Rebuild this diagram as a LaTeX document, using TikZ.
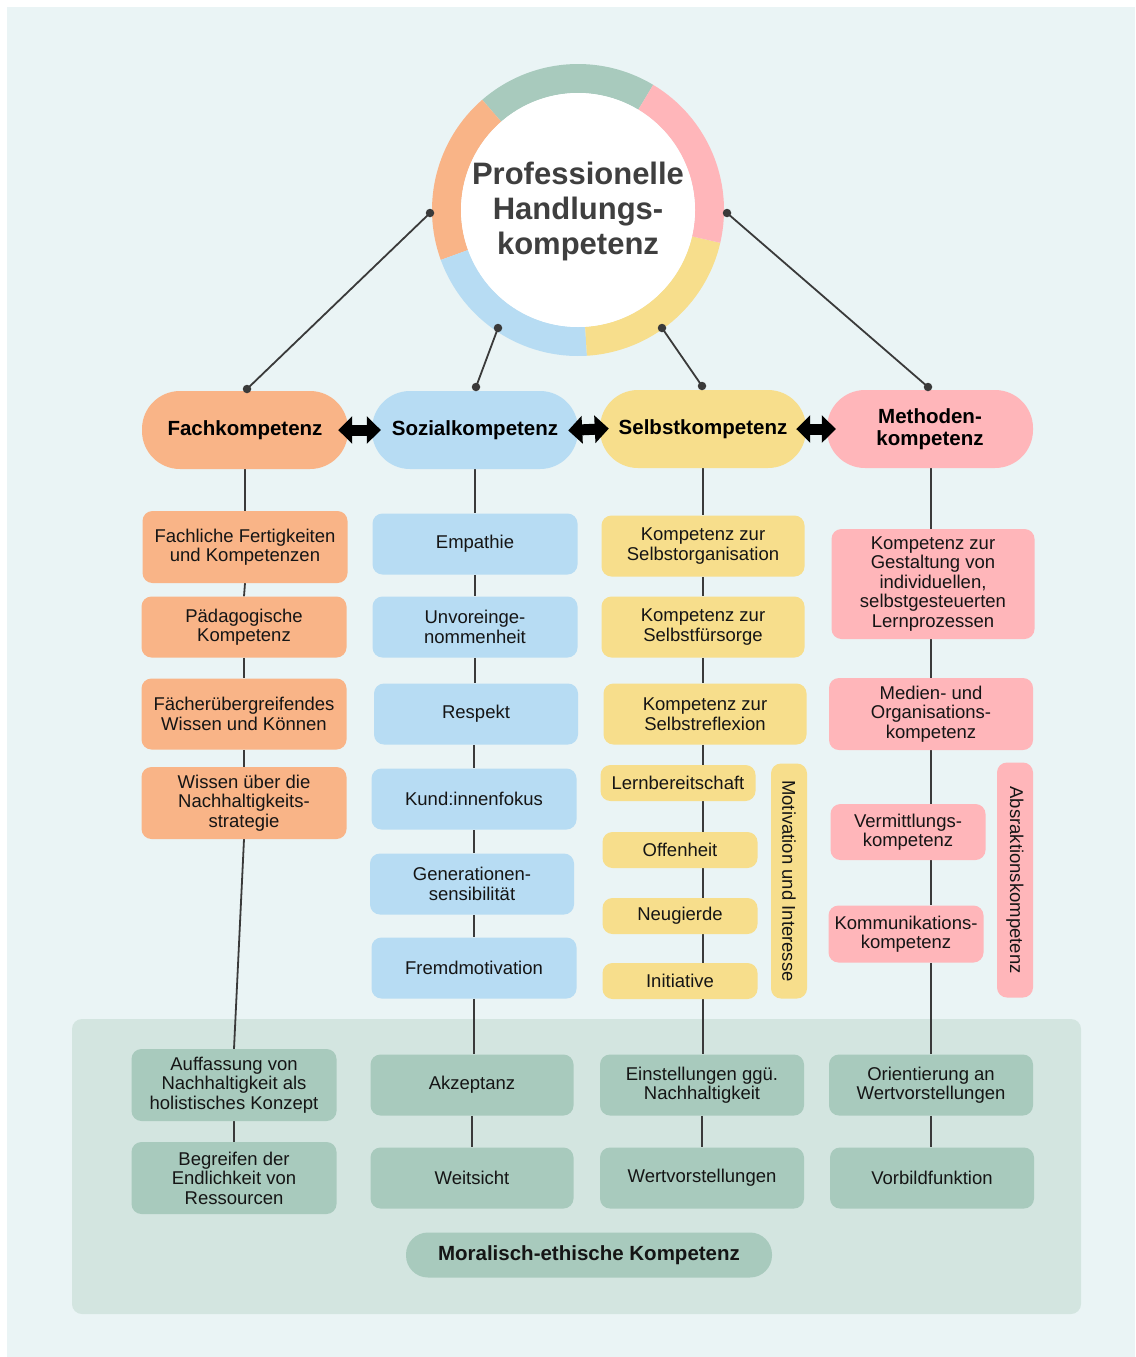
\documentclass[tikz,border=0pt]{standalone}
\usepackage{fontspec}
\setmainfont{Liberation Sans}
\usetikzlibrary{arrows.meta,calc}
\definecolor{bgc}{HTML}{EAF4F5}
\definecolor{panelc}{HTML}{D3E5E0}
\definecolor{cgreen}{HTML}{A8CABD}
\definecolor{cpink}{HTML}{FFB6BA}
\definecolor{cyellow}{HTML}{F7DE8C}
\definecolor{cblue}{HTML}{B7DCF3}
\definecolor{corange}{HTML}{F9B487}
\definecolor{ink}{HTML}{151515}
\definecolor{titlec}{HTML}{3F3F3F}
\definecolor{cwire}{HTML}{3A3A3A}
\pgfdeclarelayer{bglayer}
\pgfsetlayers{bglayer,main}
\newcommand\ringseg[3]{\fill[#1] ($(c)+(#2:146pt)$) arc[start angle=#2, end angle=#3, radius=146pt] -- ($(c)+(#3:117pt)$) arc[start angle=#3, end angle=#2, radius=117pt] -- cycle;}
\begin{document}
\begin{tikzpicture}[x=1pt,y=-1pt,
  base/.style={rounded corners=10pt, inner sep=0pt, align=center, text=ink, font=\fontsize{18.5}{19.5}\selectfont},
  obox/.style={base, fill=corange},
  bbox/.style={base, fill=cblue},
  ybox/.style={base, fill=cyellow},
  pbox/.style={base, fill=cpink},
  gbox/.style={base, fill=cgreen},
  head/.style={inner sep=0pt, align=center, text=black, font=\bfseries\fontsize{20.5}{22}\selectfont, minimum height=78pt, minimum width=206pt, rounded corners=38pt},
  link/.style={draw=cwire, line width=1.8pt},
  dot/.style={circle, fill=cwire, inner sep=0pt, minimum size=8.5pt},
  dbl/.style={line width=11pt, {Triangle[length=14pt,width=27pt]}-{Triangle[length=14pt,width=27pt]}, shorten <=-10pt, shorten >=-9pt}
]
\useasboundingbox (0,0) rectangle (1135,1357);
\begin{pgfonlayer}{bglayer}
\fill[bgc] (7,7) rectangle (1135,1357);
\fill[panelc, rounded corners=10pt] (72,1019) rectangle (1081,1314);
\end{pgfonlayer}

% ring
\coordinate (c) at (578,210);
\ringseg{cgreen}{59}{131}
\ringseg{corange}{131}{200}
\ringseg{cblue}{200}{273.5}
\ringseg{cyellow}{273.5}{347}
\ringseg{cpink}{347}{419}
\node[circle, fill=white, minimum size=234pt, inner sep=0pt] (core) at (c) {};
\node[font=\bfseries\fontsize{31}{35}\selectfont, text=titlec, align=center] (title) at (578,211) {Professionelle\\Handlungs-\\kompetenz};

% heads
\node[head, fill=corange] (fach) at (245,430) {Fachkompetenz};
\node[head, fill=cblue] (sozial) at (475,430) {Sozialkompetenz};
\node[head, fill=cyellow] (selbst) at (703,429) {Selbstkompetenz};
\node[head, fill=cpink] (meth) at (930,429) {Methoden-\\kompetenz};

\draw[dbl] (fach.east) -- (sozial.west);
\draw[dbl] (sozial.east) -- (selbst.west);
\draw[dbl] (selbst.east) -- (meth.west);

% dots
\node[dot] (dl) at (430,213) {};
\node[dot] (dr) at (727,213) {};
\node[dot] (dbl1) at (498,328) {};
\node[dot] (dbr) at (662,328) {};
\node[dot] (fd) at (247,389) {};
\node[dot] (sd) at (476,387) {};
\node[dot] (yd) at (702,386) {};
\node[dot] (md) at (928,387) {};
\draw[link] (dl.center) -- (fd.center);
\draw[link] (dr.center) -- (md.center);
\draw[link] (dbl1.center) -- (sd.center);
\draw[link] (dbr.center) -- (yd.center);

% column 1
\node[obox, minimum width=205pt, minimum height=72pt] (f1) at (245,547) {Fachliche Fertigkeiten\\und Kompetenzen};
\node[obox, minimum width=205pt, minimum height=61pt] (f2) at (244,627) {Pädagogische\\Kompetenz};
\node[obox, minimum width=205pt, minimum height=71pt] (f3) at (244,714) {Fächerübergreifendes\\Wissen und Können};
\node[obox, minimum width=205pt, minimum height=72pt] (f4) at (244,803) {Wissen über die\\Nachhaltigkeits-\\strategie};

% column 2
\node[bbox, minimum width=205pt, minimum height=61pt] (s1) at (475,544) {Empathie};
\node[bbox, minimum width=205pt, minimum height=61pt] (s2) at (475,627) {Unvoreinge-\\nommenheit};
\node[bbox, minimum width=204pt, minimum height=61pt] (s3) at (476,714) {Respekt};
\node[bbox, minimum width=205pt, minimum height=61pt] (s4) at (474,799) {Kund:innenfokus};
\node[bbox, minimum width=204pt, minimum height=61pt] (s5) at (472,884) {Generationen-\\sensibilität};
\node[bbox, minimum width=205pt, minimum height=61pt] (s6) at (474,968) {Fremdmotivation};

% column 3
\node[ybox, minimum width=203pt, minimum height=61pt] (y1) at (703,546) {Kompetenz zur\\Selbstorganisation};
\node[ybox, minimum width=203pt, minimum height=61pt] (y2) at (703,627) {Kompetenz zur\\Selbstfürsorge};
\node[ybox, minimum width=203pt, minimum height=61pt] (y3) at (705,714) {Kompetenz zur\\Selbstreflexion};
\node[ybox, minimum width=155pt, minimum height=36pt] (lern) at (678,783) {Lernbereitschaft};
\node[ybox, minimum width=155pt, minimum height=36pt] (offen) at (680,850) {Offenheit};
\node[ybox, minimum width=155pt, minimum height=36pt] (neug) at (680,916) {Neugierde};
\node[ybox, minimum width=155pt, minimum height=36pt] (init) at (680,981) {Initiative};
\node[ybox, rotate=-90, minimum width=235pt, minimum height=36pt] (motiv) at (789,881) {Motivation und Interesse};

% column 4
\node[pbox, minimum width=203pt, minimum height=110pt] (p1) at (933,584) {Kompetenz zur\\Gestaltung von\\individuellen,\\selbstgesteuerten\\Lernprozessen};
\node[pbox, minimum width=204pt, minimum height=72pt] (p2) at (931,714) {Medien- und\\Organisations-\\kompetenz};
\node[pbox, minimum width=155pt, minimum height=56pt] (verm) at (908,832) {Vermittlungs-\\kompetenz};
\node[pbox, minimum width=155pt, minimum height=57pt] (komm) at (906,934) {Kommunikations-\\kompetenz};
\node[pbox, rotate=-90, minimum width=235pt, minimum height=36pt] (abs) at (1015,880) {Absraktionskompetenz};

% bottom panel
\node[gbox, minimum width=205pt, minimum height=72pt] (auff) at (234,1085) {Auffassung von\\Nachhaltigkeit als\\holistisches Konzept};
\node[gbox, minimum width=205pt, minimum height=72pt] (begr) at (234,1178) {Begreifen der\\Endlichkeit von\\Ressourcen};
\node[gbox, minimum width=203pt, minimum height=61pt] (akz) at (472,1085) {Akzeptanz};
\node[gbox, minimum width=203pt, minimum height=61pt] (weit) at (472,1178) {Weitsicht};
\node[gbox, minimum width=204pt, minimum height=61pt] (einst) at (702,1085) {Einstellungen ggü.\\Nachhaltigkeit};
\node[gbox, minimum width=204pt, minimum height=61pt] (wert) at (702,1178) {Wertvorstellungen};
\node[gbox, minimum width=204pt, minimum height=61pt] (orient) at (931,1085) {Orientierung an\\Wertvorstellungen};
\node[gbox, minimum width=204pt, minimum height=61pt] (vorb) at (932,1178) {Vorbildfunktion};
\node[inner sep=0pt, fill=cgreen, rounded corners=22pt, minimum width=366pt, minimum height=45pt, text=ink, font=\bfseries\fontsize{20.5}{22}\selectfont] (moral) at (589,1255) {Moralisch-ethische Kompetenz};

% vertical connectors
\begin{pgfonlayer}{bglayer}
\draw[link] (fach.south) -- (f1.north);
\draw[link] (f1.south) -- (f2.north);
\draw[link] (f2.south) -- (f3.north);
\draw[link] (f3.south) -- (f4.north);
\draw[link] (f4.south) -- (auff.north);
\draw[link] (auff.south) -- (begr.north);

\draw[link] (sozial.south) -- (sozial.south |- s1.north);
\draw[link] (s1.south) -- (s1.south |- s2.north);
\draw[link] (s2.south) -- (s2.south |- s3.north);
\draw[link] (s3.south -| s4.south) -- (s4.north);
\draw[link] (s4.south) -- (s4.south |- s5.north);
\draw[link] (s5.south -| s6.south) -- (s6.north);
\draw[link] (s6.south) -- (s6.south |- akz.north);
\draw[link] (akz.south) -- (weit.north);

\draw[link] (selbst.south) -- (selbst.south |- y1.north);
\draw[link] (y1.south) -- (y2.north);
\draw[link] (y2.south -| y1.south) -- (y1.south |- y3.north);
\draw[link] (y3.south -| y1.south) -- (y1.south |- lern.north);
\draw[link] (y1.south |- lern.south) -- (y1.south |- offen.north);
\draw[link] (y1.south |- offen.south) -- (y1.south |- neug.north);
\draw[link] (y1.south |- neug.south) -- (y1.south |- init.north);
\draw[link] (y1.south |- init.south) -- (y1.south |- einst.north);
\draw[link] (einst.south) -- (wert.north);

\draw[link] (meth.south -| orient.north) -- (p1.north -| orient.north);
\draw[link] (p1.south -| orient.north) -- (p2.north -| orient.north);
\draw[link] (p2.south -| orient.north) -- (verm.north -| orient.north);
\draw[link] (verm.south -| orient.north) -- (komm.north -| orient.north);
\draw[link] (komm.south -| orient.north) -- (orient.north);
\draw[link] (orient.south) -- (orient.south |- vorb.north);
\end{pgfonlayer}
\end{tikzpicture}
\end{document}
